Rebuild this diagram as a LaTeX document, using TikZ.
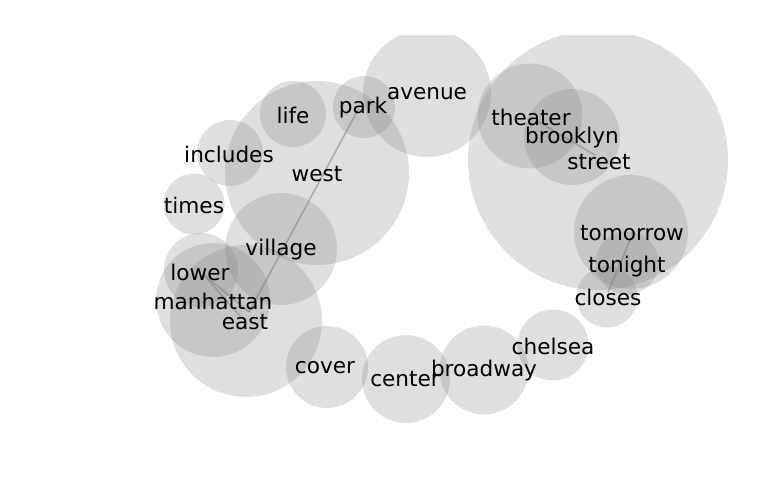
\documentclass[tikz,border=0pt]{standalone}
\usepackage{fontspec}
\setmainfont{DejaVu Sans}
\tikzset{
  bubble/.style={fill=gray, fill opacity=0.25},
  word/.style={inner sep=0pt, yshift=-1pt, font=\fontsize{21.6}{24}\selectfont, text=black},
  link/.style={draw=gray, draw opacity=0.55, line width=1.6pt}
}
\begin{document}
\begin{tikzpicture}[x=1pt,y=-1pt]
\useasboundingbox (0,0) rectangle (768,500);
\begin{scope}
\clip (0,36) rectangle (768,500);
\fill[bubble] (427,93) circle[radius=64pt];
\fill[bubble] (364,107) circle[radius=31pt];
\fill[bubble] (293,114) circle[radius=33pt];
\fill[bubble] (317,173) circle[radius=92pt];
\fill[bubble] (230,153) circle[radius=33pt];
\fill[bubble] (194,204) circle[radius=30.5pt];
\fill[bubble] (281,249) circle[radius=56pt];
\fill[bubble] (201,270) circle[radius=37pt];
\fill[bubble] (213,300) circle[radius=57pt];
\fill[bubble] (246,321) circle[radius=76pt];
\fill[bubble] (327,367) circle[radius=41pt];
\fill[bubble] (406,379) circle[radius=44pt];
\fill[bubble] (484,370) circle[radius=44.5pt];
\fill[bubble] (553,345) circle[radius=35.5pt];
\fill[bubble] (530,116) circle[radius=52.5pt];
\fill[bubble] (572,137) circle[radius=48pt];
\fill[bubble] (598,160) circle[radius=130pt];
\fill[bubble] (631,232) circle[radius=57pt];
\fill[bubble] (627,263) circle[radius=31.5pt];
\fill[bubble] (607,297) circle[radius=30.5pt];
\end{scope}
% link end points
\coordinate (pPark) at (359,108);
\coordinate (pEast) at (249,312);
\coordinate (pLower) at (203,274);
\coordinate (pManh) at (240,316);
\coordinate (pTheater) at (537,121);
\coordinate (pStreet) at (595,155);
\coordinate (pTomorrow) at (631,238);
\coordinate (pCloses) at (608,292);
\draw[link] (pPark) -- (pEast);
\draw[link] (pLower) -- (pEast);
\draw[link] (pLower) -- (pManh);
\draw[link] (pTheater) -- (pStreet);
\draw[link] (pTomorrow) -- (pCloses);
% words
\node[word] (avenue) at (427,93) {avenue};
\node[word] (park) at (363,107) {park};
\node[word] (life) at (293,114) {life};
\node[word] (west) at (317,173) {west};
\node[word] (includes) at (229,153) {includes};
\node[word] (times) at (194,204) {times};
\node[word] (village) at (281,249) {village};
\node[word] (lower) at (200,271) {lower};
\node[word] (manhattan) at (213,300) {manhattan};
\node[word] (east) at (245,321) {east};
\node[word] (cover) at (325,367) {cover};
\node[word] (center) at (405,378) {center};
\node[word] (broadway) at (484,370) {broadway};
\node[word] (chelsea) at (553,345) {chelsea};
\node[word] (theater) at (531,116) {theater};
\node[word] (brooklyn) at (572,137) {brooklyn};
\node[word] (street) at (599,161) {street};
\node[word] (tomorrow) at (632,232) {tomorrow};
\node[word] (tonight) at (627,266) {tonight};
\node[word] (closes) at (608,296) {closes};
\end{tikzpicture}
\end{document}
